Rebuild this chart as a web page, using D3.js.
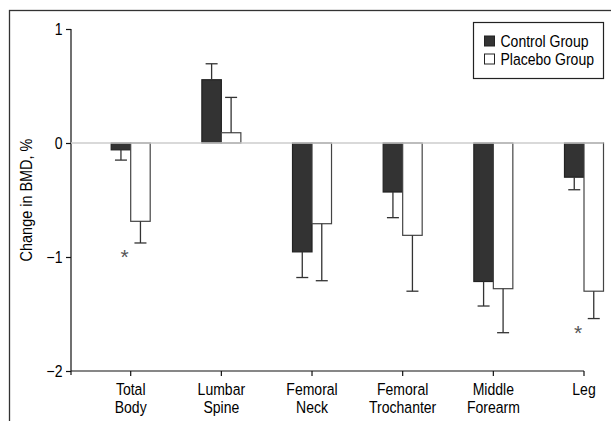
<!DOCTYPE html>
<html>
<head>
<meta charset="utf-8">
<script src="https://cdn.jsdelivr.net/npm/d3@7"></script>
<style>
  body { margin: 0; background: #fff; }
  svg text { font-family: "Liberation Sans", Arial, sans-serif; }
</style>
</head>
<body>
<svg id="chart" width="611" height="421"></svg>
<script>
// values (change in BMD, %)
var categories = [["Total", "Body"], ["Lumbar", "Spine"], ["Femoral", "Neck"], ["Femoral", "Trochanter"], ["Middle", "Forearm"], ["Leg"]]
var control    = [-0.06, 0.555, -0.955, -0.43, -1.215, -0.30]
var controlErr = [0.09, 0.14, 0.225, 0.225, 0.215, 0.11]
var placebo    = [-0.687, 0.09, -0.708, -0.81, -1.278, -1.30]
var placeboErr = [0.19, 0.31, 0.50, 0.49, 0.386, 0.24]
var significant = [true, false, false, false, false, true]
var yTicks = [1, 0, -1, -2]
var seriesNames = ["Control Group", "Placebo Group"]

// no narrow font installed, so squeeze Liberation Sans sideways
var narrow = "scale(0.85,1)"

var svg = d3.select("#chart"),
	margin = {top: 29, left: 71, bottom: 50},
	height = +svg.attr("height")

var names = categories.map(d => d.join(" "))

var rows = names.map((n, i) => ({
	name: n,
	lines: categories[i],
	values: [
		{key: "control", v: control[i], err: controlErr[i]},
		{key: "placebo", v: placebo[i], err: placeboErr[i]}
	],
	sig: significant[i]
}))

var x = d3.scalePoint()
	.domain(names)
	.range([130.7, 584])

var barW = 19.5

var y = d3.scaleLinear()
	.domain([-2, 1])
	.range([height - margin.bottom, margin.top])

// outer frame (clipped at right and bottom)
svg.append("rect")
	.attr("x", 9.5).attr("y", 10.5)
	.attr("width", 800).attr("height", 600)
	.attr("fill", "none")
	.attr("stroke", "#333")
	.attr("stroke-width", 1.3)

// y axis
var yAxis = svg.append("g")
	.attr("transform", `translate(${margin.left},0)`)
	.call(d3.axisLeft(y).tickValues(yTicks).tickFormat(d3.format("d"))
		.tickSize(5).tickSizeOuter(0).tickPadding(4))

yAxis.select(".domain").attr("stroke", "#111").attr("stroke-width", 1.2)
	.attr("d", `M0,${y(1)}V${y(-2) + 4}`)
yAxis.selectAll(".tick line").attr("stroke", "#111").attr("stroke-width", 1.2)
yAxis.selectAll(".tick text")
	.attr("transform", narrow)
	.attr("x", -10)
	.attr("font-family", null)
	.attr("font-size", null)
	.style("font-size", "16.5px")
	.attr("fill", "#000")

svg.append("text")
	.attr("transform", `translate(32,${y(-0.5)}) rotate(-90) ${narrow}`)
	.attr("text-anchor", "middle")
	.attr("fill", "#000")
	.style("font-size", "17px")
	.text("Change in BMD, %")

// x axis
var xg = svg.append("g")
	.attr("transform", `translate(0,${y(-2)})`)

xg.append("line")
	.attr("x1", margin.left).attr("x2", x(names[names.length - 1]))
	.attr("stroke", "#111").attr("stroke-width", 1.2)

var xt = xg.selectAll(".xtick")
	.data(rows)
	.enter().append("g")
	.attr("class", "xtick")
	.attr("transform", d => `translate(${x(d.name)},0)`)

xt.append("line")
	.attr("y2", 5)
	.attr("stroke", "#111").attr("stroke-width", 1.2)

xt.append("text")
	.attr("text-anchor", "middle")
	.attr("transform", narrow)
	.attr("fill", "#000")
	.style("font-size", "16.5px")
	.selectAll("tspan")
	.data(d => d.lines)
	.enter().append("tspan")
	.attr("x", 0)
	.attr("y", (d, i) => 24 + i * 18)
	.text(d => d)

// bars
var fill = {control: "#333", placebo: "#fff"}
var stroke = {control: "#222", placebo: "#444"}

var group = svg.selectAll(".grp")
	.data(rows)
	.enter().append("g")
	.attr("class", "grp")
	.attr("transform", d => `translate(${x(d.name)},0)`)

var bar = group.selectAll(".bar")
	.data(d => d.values)
	.enter().append("g")
	.attr("class", "bar")

bar.append("rect")
	.attr("x", (d, i) => (i - 1) * barW)
	.attr("y", d => y(Math.max(0, d.v)))
	.attr("width", barW)
	.attr("height", d => Math.abs(y(d.v) - y(0)))
	.attr("fill", d => fill[d.key])
	.attr("stroke", d => stroke[d.key])
	.attr("stroke-width", 1.2)

// error bars, one-sided away from zero
var errEnd = d => d.v + Math.sign(d.v) * d.err

bar.append("line")
	.attr("x1", (d, i) => (i - 0.5) * barW)
	.attr("x2", (d, i) => (i - 0.5) * barW)
	.attr("y1", d => y(d.v))
	.attr("y2", d => y(errEnd(d)))
	.attr("stroke", "#333").attr("stroke-width", 1.3)

bar.append("line")
	.attr("x1", (d, i) => (i - 0.5) * barW - 6)
	.attr("x2", (d, i) => (i - 0.5) * barW + 6)
	.attr("y1", d => y(errEnd(d)))
	.attr("y2", d => y(errEnd(d)))
	.attr("stroke", "#333").attr("stroke-width", 1.3)

// significance marks
group.filter(d => d.sig).append("text")
	.attr("x", -6)
	.attr("y", d => y(errEnd(d.values[1])) + 21)
	.attr("text-anchor", "middle")
	.attr("fill", "#555")
	.style("font-size", "21px")
	.text("*")

// zero line
svg.append("line")
	.attr("x1", margin.left)
	.attr("x2", x(names[names.length - 1]) + barW)
	.attr("y1", y(0)).attr("y2", y(0))
	.attr("stroke", "#ccc").attr("stroke-width", 1.5)

// legend
var legend = svg.append("g")
	.attr("transform", "translate(473.5,22.5)")

legend.append("rect")
	.attr("width", 130).attr("height", 56)
	.attr("fill", "#fff").attr("stroke", "#222").attr("stroke-width", 1.2)

var item = legend.selectAll(".item")
	.data(seriesNames)
	.enter().append("g")
	.attr("transform", (d, i) => `translate(11,${13.5 + i * 18})`)

item.append("rect")
	.attr("width", 10).attr("height", 10)
	.attr("fill", (d, i) => i ? "#fff" : "#333")
	.attr("stroke", "#222")

item.append("text")
	.attr("transform", `translate(16,10.5) ${narrow}`)
	.attr("fill", "#000")
	.style("font-size", "16.5px")
	.text(d => d)
</script>
</body>
</html>
